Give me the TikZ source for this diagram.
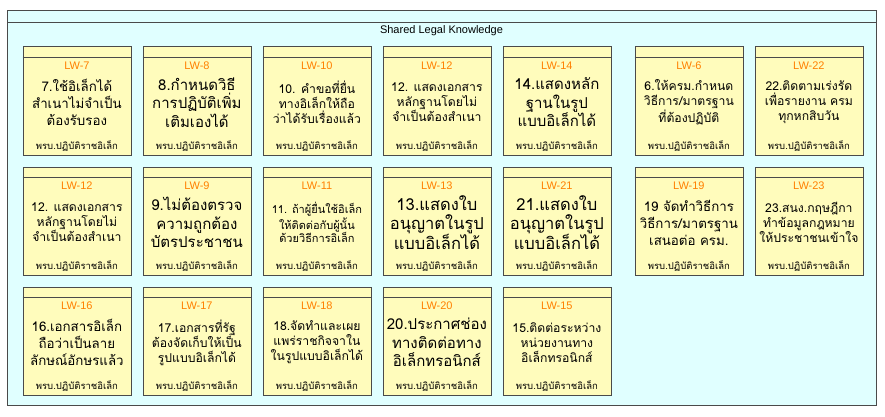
\documentclass[tikz,border=0pt]{standalone}
\usepackage{fontspec}
\setmainfont{Liberation Sans}
\newfontfamily\thaifont[Script=Thai]{Loma}
\usepackage{tikz}
\usetikzlibrary{positioning}
\definecolor{panelbg}{HTML}{E0FFFF}
\definecolor{cardbg}{HTML}{FFFCBC}
\definecolor{edgegray}{HTML}{4A4A4A}
\definecolor{tagorange}{HTML}{FF8000}
\tikzset{
  panel/.style={draw=edgegray,fill=panelbg,line width=0.8pt},
  card/.style={draw=edgegray,fill=cardbg,line width=0.8pt,minimum width=108pt,minimum height=108pt,inner sep=0pt},
  cardline/.style={draw=edgegray,line width=0.8pt},
  lwtag/.style={text=tagorange,font=\fontsize{11}{13}\selectfont,inner sep=0pt},
  actref/.style={text=black,font=\thaifont\fontsize{9.5}{11}\selectfont,inner sep=0pt},
  txtS/.style={align=center,inner sep=0pt,font=\thaifont\fontsize{11}{13.5}\selectfont},
  txtM/.style={align=center,inner sep=0pt,font=\thaifont\fontsize{12.2}{15}\selectfont},
  txtL/.style={align=center,inner sep=0pt,font=\thaifont\fontsize{13.3}{17}\selectfont},
  txtXL/.style={align=center,inner sep=0pt,font=\thaifont\fontsize{15}{18.5}\selectfont},
  txtXXL/.style={align=center,inner sep=0pt,font=\thaifont\fontsize{16.5}{19}\selectfont}
}
% one law card: name, left, top, tag, text style, text
\newcommand{\lawcard}[6]{%
  \node[card,anchor=north west] (#1) at (#2,#3) {};
  \draw[cardline] ([yshift=-11pt]#1.north west) -- ([yshift=-11pt]#1.north east);
  \node[lwtag] (#1-tag) at ([yshift=-19pt]#1.north) {#4};
  \node[#5] (#1-txt) at ([yshift=-56pt]#1.north) {#6};
  \node[actref] (#1-ref) at ([yshift=-100pt]#1.north) {พรบ.ปฏิบัติราชอิเล็ก};
}

\begin{document}
\begin{tikzpicture}[x=1pt,y=-1pt]
  \useasboundingbox (0,0) rectangle (885,417);
  % outer package frame
  \path[panel] (7,10) rectangle (876,405);
  \coordinate (hdl) at (7,22);
  \coordinate (hdr) at (876,22);
  \draw[cardline] (hdl) -- (hdr);
  \node[font=\fontsize{11}{13}\selectfont,inner sep=0pt] (title) at (441.5,31) {Shared Legal Knowledge};

  % row 1
  \lawcard{lw7}{22.5}{46.5}{LW-7}{txtL}{7.ใช้อิเล็กได้\\สำเนาไม่จำเป็น\\ต้องรับรอง}
  \lawcard{lw8}{142.5}{46.5}{LW-8}{txtXL}{8.กำหนดวิธี\\การปฏิบัติเพิ่ม\\เติมเองได้}
  \lawcard{lw10}{262.5}{46.5}{LW-10}{txtM}{10. คำขอที่ยื่น\\ทางอิเล็กให้ถือ\\ว่าได้รับเรื่องแล้ว}
  \lawcard{lw12a}{382.5}{46.5}{LW-12}{txtM}{12. แสดงเอกสาร\\หลักฐานโดยไม่\\จำเป็นต้องสำเนา}
  \lawcard{lw14}{502.5}{46.5}{LW-14}{txtXL}{14.แสดงหลัก\\ฐานในรูป\\แบบอิเล็กได้}
  \lawcard{lw6}{634.5}{46.5}{LW-6}{txtM}{6.ให้ครม.กำหนด\\วิธีการ/มาตรฐาน\\ที่ต้องปฏิบัติ}
  \lawcard{lw22}{754.5}{46.5}{LW-22}{txtM}{22.ติดตามเร่งรัด\\เพื่อรายงาน ครม\\ทุกหกสิบวัน}

  % row 2
  \lawcard{lw12b}{22.5}{166.5}{LW-12}{txtM}{12. แสดงเอกสาร\\หลักฐานโดยไม่\\จำเป็นต้องสำเนา}
  \lawcard{lw9}{142.5}{166.5}{LW-9}{txtXL}{9.ไม่ต้องตรวจ\\ความถูกต้อง\\บัตรประชาชน}
  \lawcard{lw11}{262.5}{166.5}{LW-11}{txtS}{11. ถ้าผู้ยื่นใช้อิเล็ก\\ให้ติดต่อกับผู้นั้น\\ด้วยวิธีการอิเล็ก}
  \lawcard{lw13}{382.5}{166.5}{LW-13}{txtXXL}{13.แสดงใบ\\อนุญาตในรูป\\แบบอิเล็กได้}
  \lawcard{lw21}{502.5}{166.5}{LW-21}{txtXXL}{21.แสดงใบ\\อนุญาตในรูป\\แบบอิเล็กได้}
  \lawcard{lw19}{634.5}{166.5}{LW-19}{txtL}{19 จัดทำวิธีการ\\วิธีการ/มาตรฐาน\\เสนอต่อ ครม.}
  \lawcard{lw23}{754.5}{166.5}{LW-23}{txtM}{23.สนง.กฤษฎีกา\\ทำข้อมูลกฎหมาย\\ให้ประชาชนเข้าใจ}

  % row 3
  \lawcard{lw16}{22.5}{286.5}{LW-16}{txtL}{16.เอกสารอิเล็ก\\ถือว่าเป็นลาย\\ลักษณ์อักษรแล้ว}
  \lawcard{lw17}{142.5}{286.5}{LW-17}{txtM}{17.เอกสารที่รัฐ\\ต้องจัดเก็บให้เป็น\\รูปแบบอิเล็กได้}
  \lawcard{lw18}{262.5}{286.5}{LW-18}{txtM}{18.จัดทำและเผย\\แพร่ราชกิจจาใน\\ในรูปแบบอิเล็กได้}
  \lawcard{lw20}{382.5}{286.5}{LW-20}{txtXL}{20.ประกาศช่อง\\ทางติดต่อทาง\\อิเล็กทรอนิกส์}
  \lawcard{lw15}{502.5}{286.5}{LW-15}{txtM}{15.ติดต่อระหว่าง\\หน่วยงานทาง\\อิเล็กทรอนิกส์}
\end{tikzpicture}
\end{document}
